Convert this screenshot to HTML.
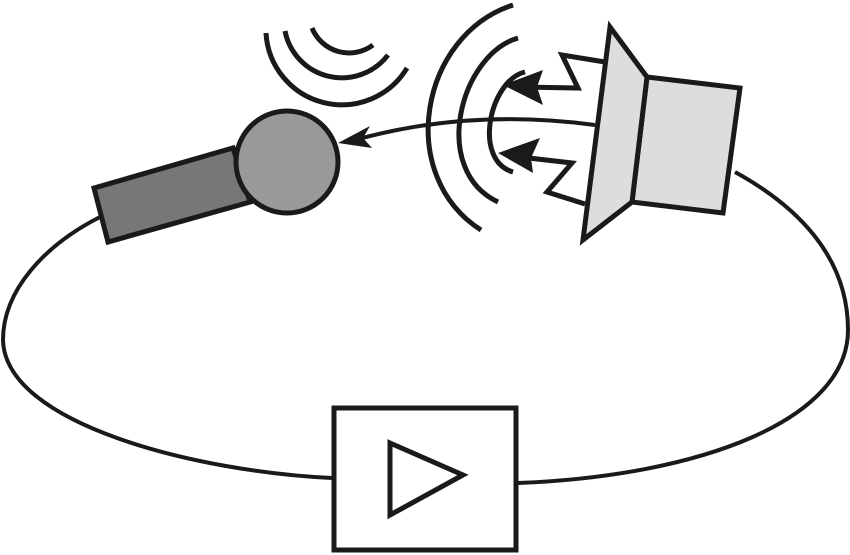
<!DOCTYPE html>
<html><head><meta charset="utf-8"><style>html,body{margin:0;padding:0;background:#fff}svg{display:block}</style></head>
<body>
<svg width="850" height="555" viewBox="0 0 850 555" xmlns="http://www.w3.org/2000/svg">
<g fill="none" stroke="#1a1a1a" stroke-width="4">
<!-- loop -->
<path d="M100,217 C45,245 3,290 3,340 C5,425 200,472 332,478"/>
<path d="M518,483 C700,476 848,420 848,330 C848,255 795,205 735,172"/>
<path d="M595,125 Q470,108 355,140"/>
</g>
<g fill="none" stroke="#1a1a1a" stroke-width="5">
<!-- top-left arcs -->
<path d="M266,33 A76,76 0 0 0 407,68"/>
<path d="M285,31 A58,58 0 0 0 388,55"/>
<path d="M312,28 A40,40 0 0 0 373,45"/>
<!-- big arcs -->
<path d="M513,5 C420,35 395,175 481,230"/>
<path d="M518,38 C460,55 430,170 498,202"/>
<path d="M525,72 C490,80 472,160 513,172"/>
<!-- zigzag arrows -->
<path d="M605,62 L562,55 L578,88 L520,87"/>
<path d="M585,204 L547,192 L572,163 L520,157"/>
</g>
<g fill="#1a1a1a">
<polygon points="338,143 370,126 363,138 372,148"/>
<polygon points="503,85 543,70 537,87 543,105"/>
<polygon points="498,153 540,138 531,158 533,173"/>
</g>
<!-- mic -->
<polygon points="94,188 233,148 250,202 108,242" fill="#777" stroke="#1a1a1a" stroke-width="5"/>
<circle cx="287" cy="162" r="51" fill="#999" stroke="#1a1a1a" stroke-width="5"/>
<!-- speaker -->
<polygon points="647,77 740,88 723,213 632,202" fill="#ddd" stroke="#1a1a1a" stroke-width="5"/>
<polygon points="610,27 647,77 632,202 583,240" fill="#ddd" stroke="#1a1a1a" stroke-width="5" stroke-linejoin="miter"/>
<!-- amplifier -->
<rect x="334" y="408" width="182" height="142" fill="#fff" stroke="#1a1a1a" stroke-width="5"/>
<polygon points="390,443 463,475 390,515" fill="none" stroke="#1a1a1a" stroke-width="5"/>
</svg>
</body></html>
